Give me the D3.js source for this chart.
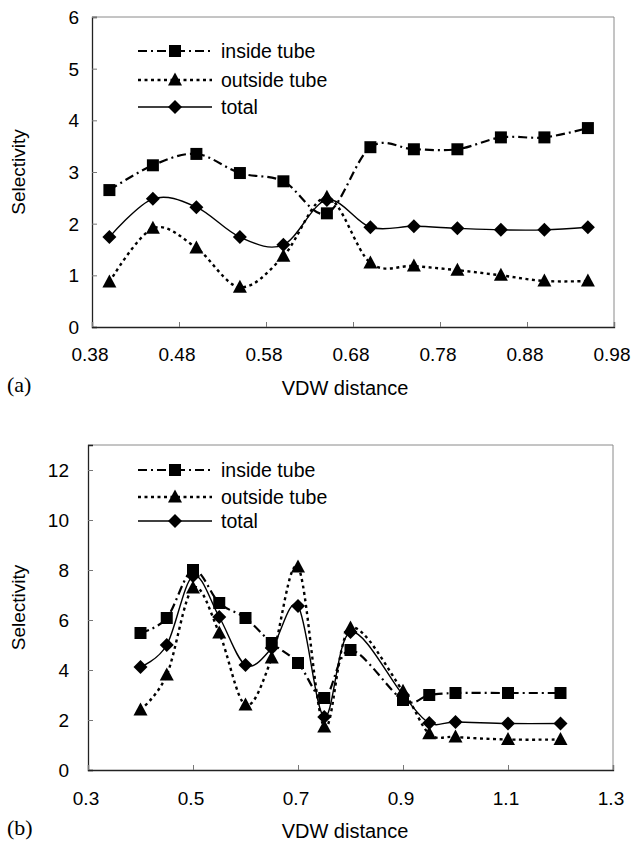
<!DOCTYPE html>
<html>
<head>
<meta charset="utf-8">
<script src="https://cdn.jsdelivr.net/npm/d3@7"></script>
<style>
  body { margin: 0; background: #fff; }
  text { font-family: "Liberation Sans", Arial, sans-serif; fill: #000; }
</style>
</head>
<body>
<div id="chart"></div>
<script>
// panel (a)
var xA = [0.40, 0.45, 0.50, 0.55, 0.60, 0.65, 0.70, 0.75, 0.80, 0.85, 0.90, 0.95];
var insideA  = [2.65, 3.13, 3.35, 2.98, 2.82, 2.20, 3.48, 3.44, 3.44, 3.67, 3.67, 3.85];
var outsideA = [0.87, 1.91, 1.53, 0.77, 1.37, 2.51, 1.24, 1.18, 1.10, 1.00, 0.89, 0.89];
var totalA   = [1.74, 2.48, 2.32, 1.74, 1.59, 2.46, 1.93, 1.95, 1.91, 1.88, 1.88, 1.93];
var xTicksA = [0.38, 0.48, 0.58, 0.68, 0.78, 0.88, 0.98];
var yTicksA = [0, 1, 2, 3, 4, 5, 6];

// panel (b)
var xB = [0.40, 0.45, 0.50, 0.55, 0.60, 0.65, 0.70, 0.75, 0.80, 0.90, 0.95, 1.00, 1.10, 1.20];
var insideB  = [5.48, 6.08, 8.00, 6.68, 6.08, 5.08, 4.28, 2.88, 4.80, 2.80, 3.00, 3.08, 3.08, 3.08];
var outsideB = [2.40, 3.80, 7.28, 5.48, 2.60, 4.48, 8.12, 1.72, 5.68, 3.15, 1.45, 1.32, 1.22, 1.22];
var totalB   = [4.12, 5.00, 7.76, 6.12, 4.20, 4.88, 6.56, 2.12, 5.52, 3.00, 1.88, 1.92, 1.86, 1.86];
var xTicksB = [0.3, 0.5, 0.7, 0.9, 1.1, 1.3];
var yTicksB = [0, 2, 4, 6, 8, 10, 12];

var seriesNames = ["inside tube", "outside tube", "total"];

var svg = d3.select("#chart").append("svg")
  .attr("width", 633)
  .attr("height", 849);

var styles = [
  { dash: "9,4,2,4", width: 2.2, marker: "square" },
  { dash: "3,3.5", width: 2.4, marker: "triangle" },
  { dash: null, width: 1.4, marker: "diamond" }
];

function marker(g, type, cx, cy) {
  if (type == "square") {
    g.append("rect").attr("x", cx - 6).attr("y", cy - 6)
      .attr("width", 12).attr("height", 12).attr("fill", "#000");
  } else if (type == "triangle") {
    g.append("path").attr("d", "M" + cx + "," + (cy - 7.5) + "L" + (cx + 7) + "," + (cy + 5.5) + "L" + (cx - 7) + "," + (cy + 5.5) + "Z")
      .attr("fill", "#000");
  } else {
    g.append("path").attr("d", "M" + cx + "," + (cy - 7) + "L" + (cx + 7) + "," + cy + "L" + cx + "," + (cy + 7) + "L" + (cx - 7) + "," + cy + "Z")
      .attr("fill", "#000");
  }
}

function drawPanel(cfg) {
  var g = svg.append("g");
  var x = d3.scaleLinear().domain(cfg.xDomain).range(cfg.xRange);
  var y = d3.scaleLinear().domain(cfg.yDomain).range(cfg.yRange);
  var x0 = cfg.xRange[0], x1 = cfg.xRange[1], y0 = cfg.yRange[0], y1 = cfg.yRange[1];

  // frame (top and right in grey)
  g.append("path")
    .attr("d", "M" + x0 + "," + y1 + "H" + x1 + "V" + y0)
    .attr("fill", "none").attr("stroke", "#8a8a8a").attr("stroke-width", 1);

  var yAxis = g.append("g")
    .attr("transform", "translate(" + x0 + ",0)")
    .call(d3.axisRight(y).tickValues(cfg.yTicks).tickSize(5).tickFormat(""));
  yAxis.select(".domain").attr("stroke", "#222").attr("stroke-width", 1.3);
  yAxis.selectAll(".tick line").attr("stroke", "#777");
  yAxis.selectAll(".tick").filter(function(d) { return d == cfg.yDomain[0]; }).remove();

  var xAxis = g.append("g")
    .attr("transform", "translate(0," + y0 + ")")
    .call(d3.axisTop(x).tickValues(cfg.xTicks).tickSize(5).tickFormat(""));
  xAxis.select(".domain").attr("stroke", "#222").attr("stroke-width", 1.3);
  xAxis.selectAll(".tick line").attr("stroke", "#777");

  // tick labels
  g.selectAll("text.ylab").data(cfg.yTicks).enter().append("text")
    .attr("class", "ylab")
    .attr("x", cfg.yLabelX).attr("y", function(d) { return y(d); })
    .attr("dy", "0.36em").attr("text-anchor", "end")
    .style("font-size", "19px")
    .text(function(d) { return d; });

  g.selectAll("text.xlab").data(cfg.xTicks).enter().append("text")
    .attr("class", "xlab")
    .attr("x", function(d) { return x(d) - 2; }).attr("y", cfg.xLabelY)
    .attr("dy", "0.36em").attr("text-anchor", "middle")
    .style("font-size", "19px")
    .text(function(d) { return cfg.xFormat(d); });

  g.append("text")
    .attr("transform", "translate(" + 18 + "," + ((y0 + y1) / 2) + ") rotate(-90)")
    .attr("text-anchor", "middle").attr("dy", "0.36em")
    .style("font-size", "19px")
    .text("Selectivity");

  g.append("text")
    .attr("x", 345).attr("y", cfg.titleY).attr("dy", "0.36em")
    .attr("text-anchor", "middle").style("font-size", "20px")
    .text("VDW distance");

  g.append("text")
    .attr("x", 7).attr("y", cfg.titleY - 4).attr("dy", "0.36em")
    .style("font-family", "'Liberation Serif', 'Times New Roman', serif")
    .style("font-size", "22px")
    .text(cfg.panel);

  var line = d3.line()
    .x(function(d) { return x(d[0]); })
    .y(function(d) { return y(d[1]); })
    .curve(d3.curveCatmullRom.alpha(0));

  cfg.series.forEach(function(vals, i) {
    var pts = cfg.xs.map(function(v, j) { return [v, vals[j]]; });
    g.append("path")
      .attr("d", line(pts))
      .attr("fill", "none")
      .attr("stroke", "#000")
      .attr("stroke-width", styles[i].width)
      .attr("stroke-dasharray", styles[i].dash);
    pts.forEach(function(p) { marker(g, styles[i].marker, x(p[0]), y(p[1])); });
  });

  // legend
  seriesNames.forEach(function(name, i) {
    var ly = cfg.legendY[i];
    g.append("line")
      .attr("x1", 138).attr("x2", 212).attr("y1", ly).attr("y2", ly)
      .attr("stroke", "#000").attr("stroke-width", styles[i].width)
      .attr("stroke-dasharray", styles[i].dash);
    marker(g, styles[i].marker, 175, ly);
    g.append("text")
      .attr("x", 221).attr("y", ly).attr("dy", "0.36em")
      .style("font-size", "19.5px")
      .text(name);
  });
}

drawPanel({
  panel: "(a)",
  xs: xA, series: [insideA, outsideA, totalA],
  xDomain: [0.38, 0.98], xRange: [92, 614],
  yDomain: [0, 6], yRange: [327, 17],
  xTicks: xTicksA, yTicks: yTicksA,
  xFormat: d3.format(".2f"),
  yLabelX: 79, xLabelY: 354, titleY: 388,
  legendY: [51, 80, 107]
});

drawPanel({
  panel: "(b)",
  xs: xB, series: [insideB, outsideB, totalB],
  xDomain: [0.3, 1.3], xRange: [88, 613],
  yDomain: [0, 13], yRange: [770, 445],
  xTicks: xTicksB, yTicks: yTicksB,
  xFormat: d3.format(".1f"),
  yLabelX: 69, xLabelY: 798, titleY: 831,
  legendY: [470, 497, 521]
});
</script>
</body>
</html>
